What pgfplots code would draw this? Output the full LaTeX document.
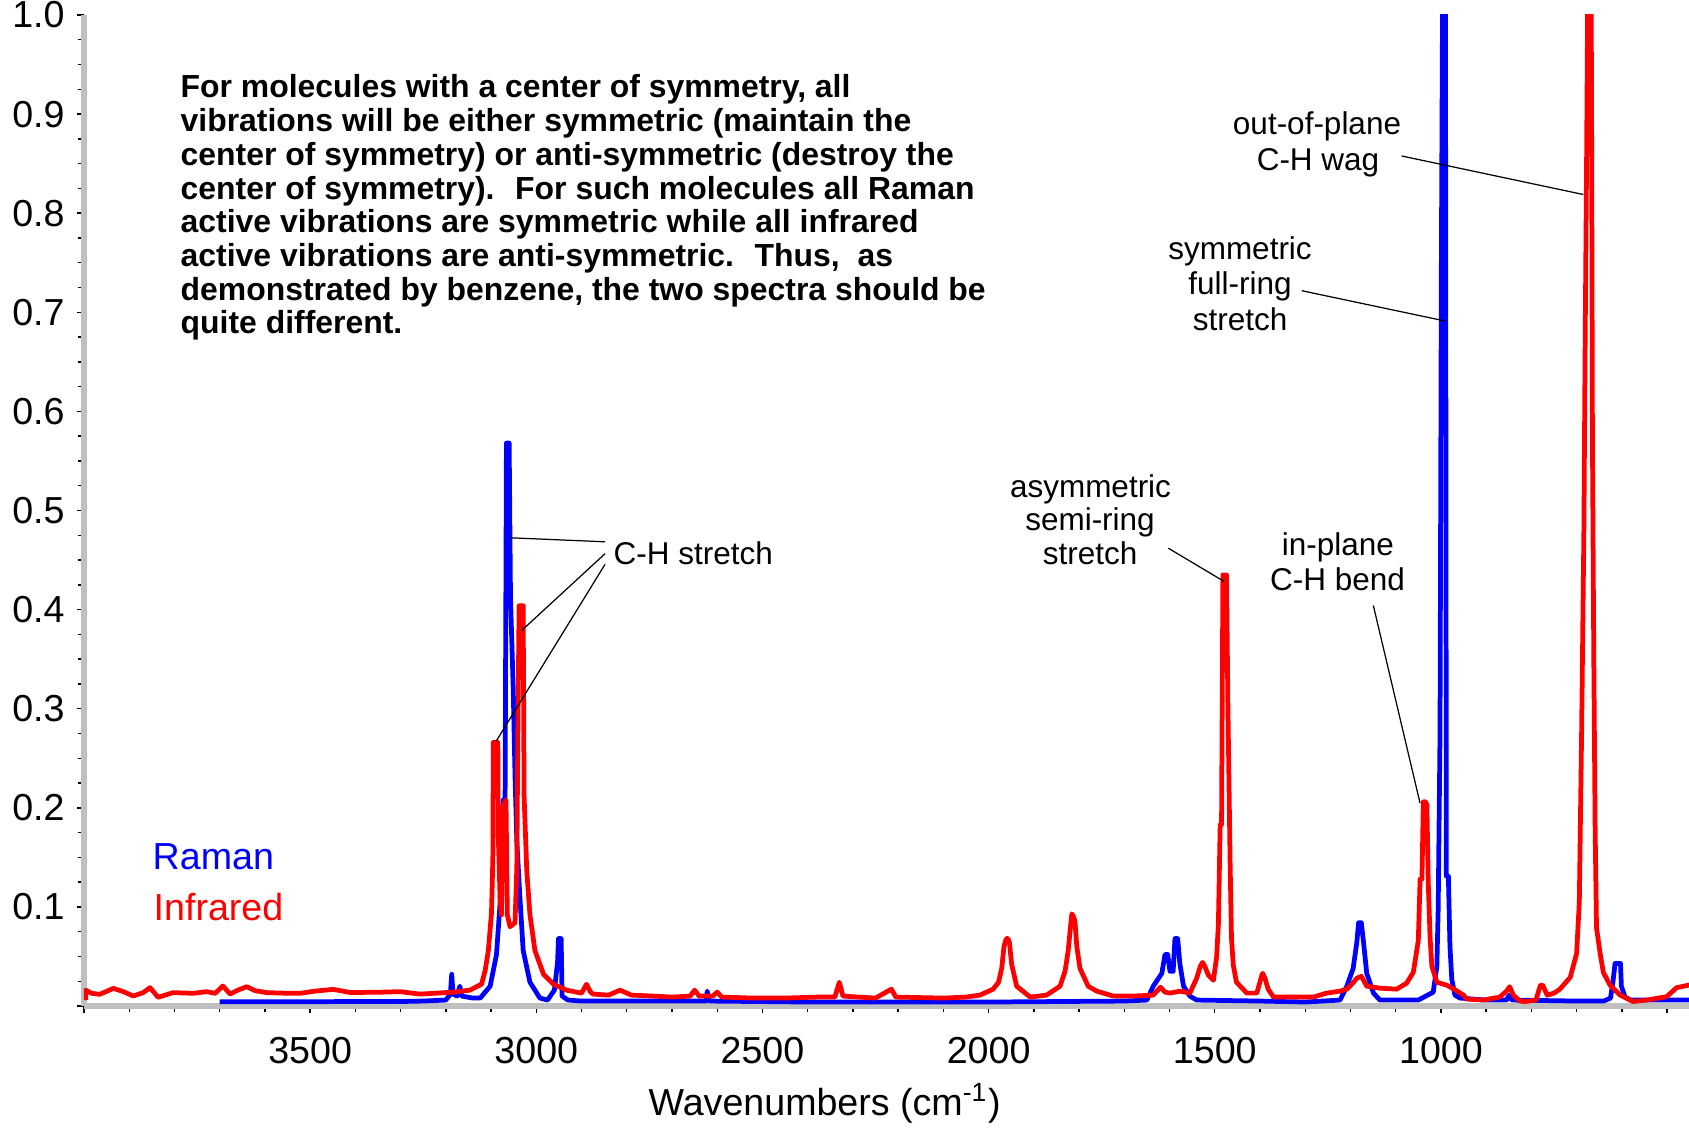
\documentclass[border=0pt]{standalone}
\usepackage{fontspec}
\setmainfont{Liberation Sans}
\usepackage{pgfplots}
\pgfplotsset{compat=1.18}
\definecolor{axgray}{RGB}{192,192,192}
\newcommand{\tk}{\fontsize{10.7}{12.8}\selectfont}
\newcommand{\an}{\fontsize{8.96}{10.1}\selectfont}
\newcommand{\bt}{\fontsize{9.08}{9.6}\selectfont\bfseries}
\begin{document}
\begin{tikzpicture}
\useasboundingbox (0,0) rectangle (16.89,11.28);
\begin{axis}[
  at={(0.84cm,1.22cm)}, anchor=south west,
  scale only axis, width=16.057cm, height=9.91cm,
  xmin=450, xmax=4000, x dir=reverse,
  ymin=0, ymax=1,
  axis x line*=bottom, axis y line*=left,
  axis line style={draw=axgray, line width=1.6pt, -},
  xtick={500,1000,1500,2000,2500,3000,3500,4000},
  xticklabels={,1000,1500,2000,2500,3000,3500,},
  minor x tick num=4,
  ytick={0,0.1,0.2,0.3,0.4,0.5,0.6,0.7,0.8,0.9,1},
  yticklabels={,0.1,0.2,0.3,0.4,0.5,0.6,0.7,0.8,0.9,1.0},
  minor y tick num=3,
  tick align=outside,
  major tick length=0.07cm, minor tick length=0.06cm,
  tick style={black, line width=0.4pt},
  ticklabel style={font=\tk},
  xticklabel style={yshift=-0.12cm},
]
\addplot[blue, line width=1.35pt, line join=round] coordinates {
(3700,0.0044) (3500,0.0044) (3300,0.0045) (3250,0.005) (3200,0.006) (3190,0.012)
(3187,0.032) (3184,0.012) (3175,0.010) (3169,0.020) (3165,0.010) (3140,0.008)
(3124,0.008) (3102,0.020) (3088,0.052) (3080,0.104) (3073,0.208) (3069,0.208)
(3066,0.568) (3060,0.568) (3057,0.412) (3051,0.32) (3047,0.232) (3043,0.166)
(3036,0.108) (3029,0.056) (3014,0.024) (2992,0.008) (2975,0.006) (2960,0.016)
(2953,0.044) (2951,0.068) (2945,0.068) (2943,0.01) (2930,0.006) (2900,0.005)
(2700,0.005) (2625,0.005) (2622,0.015) (2618,0.005) (2400,0.004) (2000,0.004)
(1700,0.005) (1650,0.006) (1636,0.02) (1617,0.033) (1610,0.052) (1604,0.052)
(1599,0.035) (1592,0.035) (1588,0.068) (1582,0.068) (1577,0.042) (1569,0.02)
(1555,0.01) (1540,0.006) (1400,0.005) (1300,0.004) (1223,0.006) (1208,0.02)
(1194,0.038) (1186,0.064) (1182,0.084) (1176,0.084) (1171,0.064) (1164,0.033)
(1149,0.013) (1135,0.006) (1050,0.006) (1017,0.014) (1009,0.04) (1006,0.099)
(1002,0.274) (999,0.752) (996,1.05) (990,1.05) (988,0.131) (983.5,0.131)
(980,0.06) (976,0.027) (969,0.011) (958,0.008) (900,0.006) (855,0.006)
(849,0.011) (843,0.006) (700,0.005) (640,0.005) (625,0.008) (619,0.027)
(615,0.043) (603,0.043) (601,0.02) (593,0.009) (580,0.006) (451,0.006)
};
\addplot[red, line width=1.35pt, line join=round] coordinates {
(3996,0.006) (3996,0.016) (3983,0.0128) (3965,0.0118) (3935,0.0178) (3913,0.0145)
(3891,0.0101) (3869,0.0135) (3854,0.0185) (3836,0.0088) (3803,0.0135) (3758,0.0128)
(3729,0.0145) (3710,0.0128) (3693,0.0202) (3677,0.0121) (3659,0.0162) (3640,0.0195)
(3622,0.0155) (3596,0.0135) (3560,0.013) (3522,0.0128) (3490,0.015) (3449,0.0168)
(3410,0.0135) (3375,0.0138) (3340,0.014) (3301,0.0145) (3257,0.012) (3220,0.013)
(3183,0.014) (3147,0.016) (3121,0.022) (3113,0.036) (3106,0.056) (3099,0.094)
(3096,0.15) (3095,0.266) (3085,0.266) (3084,0.172) (3080,0.108) (3077,0.092)
(3074,0.2) (3067,0.208) (3064,0.092) (3058,0.08) (3047,0.084) (3043,0.14)
(3041,0.264) (3038,0.404) (3029,0.404) (3027,0.212) (3021,0.136) (3014,0.092)
(3003,0.056) (2984,0.032) (2962,0.022) (2933,0.016) (2900,0.013) (2889,0.022)
(2880,0.014) (2874,0.012) (2840,0.011) (2815,0.016) (2790,0.011) (2741,0.010)
(2700,0.009) (2660,0.01) (2650,0.016) (2640,0.01) (2610,0.01) (2600,0.014)
(2590,0.009) (2520,0.008) (2450,0.008) (2380,0.009) (2340,0.009) (2330,0.024)
(2322,0.01) (2250,0.008) (2215,0.017) (2205,0.009) (2100,0.008) (2050,0.009)
(2019,0.011) (1990,0.017) (1978,0.024) (1971,0.038) (1966,0.06) (1961,0.068)
(1957,0.068) (1954,0.064) (1949,0.042) (1938,0.02) (1908,0.009) (1872,0.011)
(1842,0.02) (1831,0.035) (1824,0.056) (1820,0.075) (1816,0.093) (1812,0.09)
(1809,0.085) (1805,0.06) (1798,0.038) (1780,0.02) (1761,0.015) (1724,0.01)
(1680,0.01) (1636,0.011) (1620,0.019) (1610,0.014) (1599,0.013) (1577,0.015)
(1555,0.013) (1540,0.028) (1532,0.04) (1527,0.044) (1522,0.04) (1514,0.031)
(1503,0.026) (1496,0.049) (1492,0.082) (1488,0.183) (1485,0.183) (1482,0.435)
(1474,0.435) (1471,0.305) (1466,0.143) (1463,0.068) (1459,0.041) (1452,0.024)
(1429,0.013) (1407,0.013) (1396,0.031) (1394,0.033) (1389,0.028) (1382,0.017)
(1370,0.009) (1282,0.009) (1253,0.013) (1223,0.015) (1208,0.017) (1193,0.024)
(1186,0.028) (1176,0.03) (1171,0.026) (1164,0.02) (1149,0.019) (1135,0.018)
(1098,0.017) (1076,0.023) (1061,0.034) (1050,0.066) (1046,0.128) (1042,0.128)
(1040,0.177) (1039,0.206) (1034,0.206) (1031,0.203) (1028,0.125) (1024,0.069)
(1020,0.04) (1009,0.024) (987,0.021) (973,0.0175) (950,0.011) (943,0.007)
(907,0.006) (870,0.009) (855,0.015) (848,0.0195) (840,0.011) (825,0.005)
(814,0.0045) (790,0.006) (780,0.021) (775,0.021) (765,0.011) (750,0.013)
(737,0.017) (714,0.029) (700,0.053) (694,0.105) (689,0.274) (684,0.476)
(681,0.677) (678,0.849) (675,1.05) (668,1.05) (667,0.911) (665,0.57)
(662,0.35) (659,0.177) (656,0.079) (648,0.053) (641,0.034) (626,0.021)
(604,0.011) (575,0.0045) (545,0.006) (501,0.0094) (479,0.0185) (451,0.0212)
};
\end{axis}
% explanatory text
\begin{scope}[every node/.style={inner sep=0pt, anchor=base west, font=\bt}]
\node at (1.80,10.300) {For molecules with a center of symmetry, all};
\node at (1.80,9.963) {vibrations will be either symmetric (maintain the};
\node at (1.80,9.626) {center of symmetry) or anti-symmetric (destroy the};
\node at (1.80,9.289) {center of symmetry).~ For such molecules all Raman};
\node at (1.80,8.952) {active vibrations are symmetric while all infrared};
\node at (1.80,8.615) {active vibrations are anti-symmetric.~ Thus,~ as};
\node at (1.80,8.278) {demonstrated by benzene, the two spectra should be};
\node at (1.80,7.941) {quite different.};
\end{scope}
% legend
\node[inner sep=0pt, anchor=base west, font=\tk, text=blue] at (1.52,2.59) {Raman};
\node[inner sep=0pt, anchor=base west, font=\tk, text=red] at (1.53,2.08) {Infrared};
% x label
\node[inner sep=0pt, anchor=base west, font=\tk] at (6.48,0.13) {Wavenumbers (cm\textsuperscript{-1})};
% annotations
\begin{scope}[every node/.style={inner sep=0pt, anchor=base, font=\an}]
\node at (13.17,9.93) {out-of-plane};
\node at (13.18,9.57) {C-H wag};
\node at (12.40,8.687) {symmetric};
\node at (12.40,8.33) {full-ring};
\node at (12.40,7.98) {stretch};
\node at (10.905,6.31) {asymmetric};
\node at (10.90,5.975) {semi-ring};
\node at (10.90,5.64) {stretch};
\node at (13.38,5.726) {in-plane};
\node at (13.375,5.38) {C-H bend};
\node[anchor=base west] at (6.13,5.636) {C-H stretch};
\end{scope}
\begin{scope}[black, line width=0.35pt]
\draw (14.017,9.72) -- (15.833,9.335);
\draw (13.017,8.373) -- (14.45,8.07);
\draw (11.683,5.798) -- (12.24,5.466);
\draw (13.733,5.226) -- (14.20,3.25);
\draw (6.05,5.862) -- (5.107,5.902);
\draw (6.05,5.743) -- (5.217,4.975);
\draw (6.05,5.636) -- (4.96,3.866);
\end{scope}
\end{tikzpicture}
\end{document}
